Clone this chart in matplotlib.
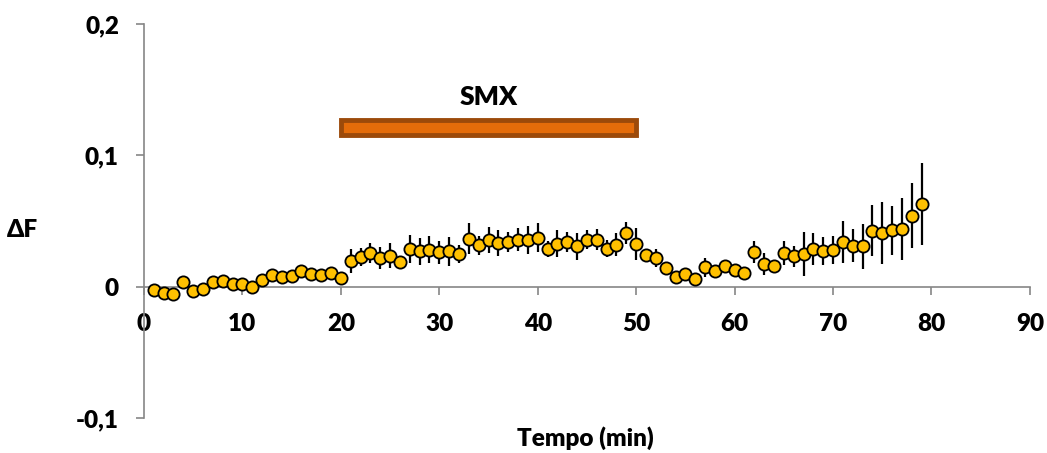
import numpy as np
import matplotlib.pyplot as plt
from matplotlib.patches import Rectangle

plt.rcParams['font.family'] = ['Lato', 'DejaVu Sans']
plt.rcParams['font.weight'] = 'heavy'

# time points (min) and mean fluorescence change with SEM
tempo = list(range(1, 80))
delta_f = [
    -0.0023, -0.0050, -0.0053, 0.0033, -0.0035, -0.0015, 0.0033, 0.0040, 0.0020, 0.0020,
    -0.0003, 0.0048, 0.0090, 0.0074, 0.0084, 0.0117, 0.0097, 0.0090, 0.0104, 0.0066,
    0.0193, 0.0226, 0.0257, 0.0218, 0.0236, 0.0185, 0.0287, 0.0269, 0.0282, 0.0261,
    0.0269, 0.0249, 0.0363, 0.0315, 0.0358, 0.0333, 0.0338, 0.0358, 0.0353, 0.0371,
    0.0287, 0.0327, 0.0340, 0.0307, 0.0358, 0.0358, 0.0290, 0.0320, 0.0409, 0.0325,
    0.0244, 0.0218, 0.0142, 0.0071, 0.0097, 0.0058, 0.0147, 0.0122, 0.0155, 0.0130,
    0.0104, 0.0264, 0.0175, 0.0160, 0.0257, 0.0231, 0.0249, 0.0287, 0.0269, 0.0277,
    0.0338, 0.0312, 0.0307, 0.0427, 0.0409, 0.0429, 0.0440, 0.0541, 0.0630,
]
sem = [
    0.002, 0.002, 0.002, 0.002, 0.002, 0.002, 0.002, 0.002, 0.002, 0.002,
    0.002, 0.002, 0.003, 0.002, 0.002, 0.002, 0.002, 0.002, 0.002, 0.002,
    0.0091, 0.0070, 0.0078, 0.0085, 0.0095, 0.0050, 0.0110, 0.0105, 0.0104, 0.0090,
    0.0110, 0.0066, 0.0118, 0.0074, 0.0099, 0.0098, 0.0076, 0.0089, 0.0108, 0.0110,
    0.0060, 0.0104, 0.0076, 0.0102, 0.0070, 0.0080, 0.0063, 0.0085, 0.0086, 0.0120,
    0.0040, 0.0070, 0.0030, 0.0020, 0.0020, 0.0020, 0.0070, 0.0030, 0.0030, 0.0030,
    0.0020, 0.0086, 0.0083, 0.0030, 0.0089, 0.0079, 0.0165, 0.0124, 0.0108, 0.0108,
    0.0161, 0.0124, 0.0169, 0.0193, 0.0237, 0.0185, 0.0237, 0.0248, 0.0315,
]

# drug application window
smx_start, smx_end = 20, 50
smx_level = 0.1214

axis_grey = '#868686'

fig = plt.figure(figsize=(10.47, 4.53), dpi=100)
ax = fig.add_axes([0.1375, 0.0773, 0.8462, 0.8698])

ax.errorbar(tempo, delta_f, yerr=sem, fmt='o', color='black', ecolor='black',
            elinewidth=1.6, capsize=0, markersize=8.8, markerfacecolor='#FFC000',
            markeredgecolor='black', markeredgewidth=1.3, zorder=3)

ax.add_patch(Rectangle((smx_start, smx_level - 0.0057), smx_end - smx_start, 0.0114,
                       facecolor='#E46C0A', edgecolor='#9C4A0A', linewidth=3.5, zorder=2))
ax.text((smx_start + smx_end) / 2, 0.1443, 'SMX', ha='center', va='center',
        fontsize=19, fontweight='heavy')

ax.set_xlim(0, 90)
ax.set_ylim(-0.1, 0.2)
ax.set_xticks(range(0, 91, 10))
ax.set_yticks([-0.1, 0, 0.1, 0.2])
ax.set_yticklabels(['-0,1', '0', '0,1', '0,2'])

for side in ('top', 'right'):
    ax.spines[side].set_visible(False)
ax.spines['bottom'].set_position(('data', 0))
for side in ('left', 'bottom'):
    ax.spines[side].set_color(axis_grey)
    ax.spines[side].set_linewidth(1.2)

ax.tick_params(axis='both', direction='out', length=6, width=1.2, color=axis_grey,
               labelsize=17.5)
ax.tick_params(axis='x', pad=13)
ax.tick_params(axis='y', pad=12)

fig.text(38 / 1047, 1 - 230 / 453, 'ΔF', ha='right', va='center', fontsize=17.5,
         fontweight='heavy')
fig.text(585 / 1047, 1 - 438 / 453, 'Tempo (min)', ha='center', va='center',
         fontsize=17.5, fontweight='heavy')

fig.savefig('out.png', dpi=100)
